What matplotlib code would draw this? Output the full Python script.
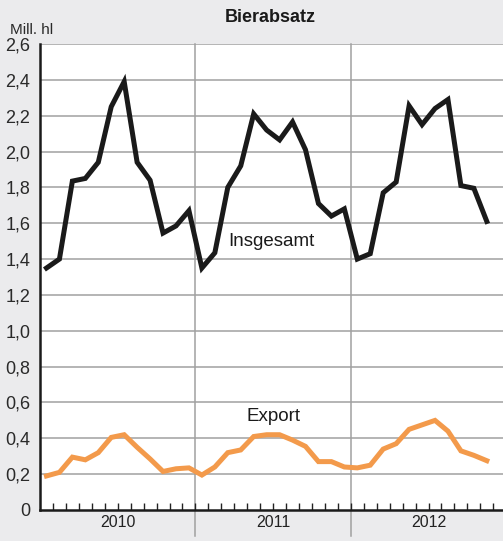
import matplotlib.pyplot as plt
import numpy as np
from matplotlib.ticker import FixedLocator, FuncFormatter

plt.rcParams['font.family'] = ['Liberation Sans', 'DejaVu Sans']

years = ['2010', '2011', '2012']
insgesamt = [1.35, 1.40, 1.835, 1.85, 1.94, 2.25, 2.39, 1.94, 1.84, 1.545, 1.585, 1.67,
             1.35, 1.435, 1.80, 1.92, 2.21, 2.12, 2.065, 2.165, 2.01, 1.71, 1.64, 1.68,
             1.40, 1.43, 1.77, 1.83, 2.255, 2.15, 2.24, 2.29, 1.81, 1.795, 1.61]
export = [0.19, 0.21, 0.295, 0.28, 0.32, 0.405, 0.42, 0.35, 0.285, 0.215, 0.23, 0.235,
          0.195, 0.24, 0.32, 0.335, 0.41, 0.42, 0.42, 0.39, 0.355, 0.27, 0.27, 0.24,
          0.235, 0.25, 0.34, 0.37, 0.45, 0.475, 0.50, 0.44, 0.33, 0.305, 0.275]
y_ticks = np.arange(0, 2.61, 0.2)

bg = '#ebebed'
fig = plt.figure(figsize=(5.03, 5.41), dpi=100, facecolor=bg)
ax = fig.add_axes([40/503, 31/541, 463/503, 466/541])
ax.set_facecolor('white')

x = np.arange(len(insgesamt)) + 0.5
ax.plot(x, insgesamt, color='#1a1a1a', lw=3.6, solid_joinstyle='miter', zorder=3)
ax.plot(x, export, color='#f39a4b', lw=3.6, solid_joinstyle='miter', zorder=3)

ax.set_xlim(0, 35.75)
ax.set_ylim(0, 2.6)

for yv in y_ticks[1:]:
    ax.axhline(yv, color='#a0a0a0', lw=1.1, zorder=1)
for xv in [12, 24]:
    ax.axvline(xv, ymin=-0.055, ymax=1, color='#a0a0a0', lw=1.1, zorder=1, clip_on=False)

ax.yaxis.set_major_locator(FixedLocator(y_ticks))
ax.yaxis.set_major_formatter(FuncFormatter(
    lambda v, p: '0' if abs(v) < 1e-9 else f'{v:.1f}'.replace('.', ',')))
ax.tick_params(axis='y', length=0, labelsize=13, colors='#2a2a2a', pad=7)
ax.set_xticks(np.arange(1, 36))
ax.set_xticklabels([])
ax.tick_params(axis='x', direction='in', length=5, width=1, color='#222222')

for s in ['top', 'right']:
    ax.spines[s].set_visible(False)
for s in ['left', 'bottom']:
    ax.spines[s].set_linewidth(1.8)
    ax.spines[s].set_color('#1a1a1a')

for i, yr in enumerate(years):
    ax.text(i*12 + 6, -0.07, yr, ha='center', va='center', fontsize=11.5,
            color='#222222', clip_on=False)

ax.text(17.85, 1.50, 'Insgesamt', ha='center', va='center', fontsize=13.5, color='#1a1a1a')
ax.text(18.05, 0.52, 'Export', ha='center', va='center', fontsize=13.5, color='#1a1a1a')

fig.text(10/503, 1 - 30/541, 'Mill. hl', ha='left', va='center', fontsize=11, color='#2a2a2a')
fig.text(270/503, 1 - 18/541, 'Bierabsatz', ha='center', va='center', fontsize=13,
         fontweight='bold', color='#1a1a1a')

fig.savefig('out.png', dpi=100, facecolor=bg)
